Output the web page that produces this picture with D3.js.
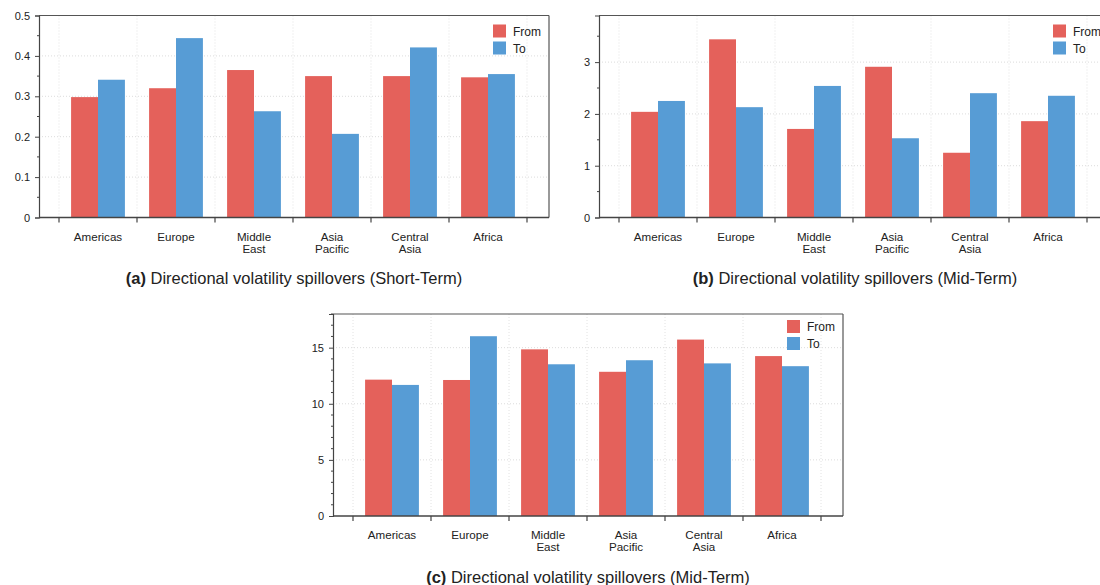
<!DOCTYPE html>
<html>
<head>
<meta charset="utf-8">
<script src="https://cdn.jsdelivr.net/npm/d3@7"></script>
<style>
  html, body { margin: 0; padding: 0; background: #fff; }
  svg { display: block; font-family: "Liberation Sans", Arial, sans-serif; }
</style>
</head>
<body>
<svg id="chart" width="1100" height="585"></svg>
<script>
// ---- Data ----
const categories = ["Americas", "Europe", "Middle East", "Asia Pacific", "Central Asia", "Africa"];
const categoryLines = [["Americas"], ["Europe"], ["Middle", "East"], ["Asia", "Pacific"], ["Central", "Asia"], ["Africa"]];
const seriesNames = ["From", "To"];

const shortFrom = [0.298, 0.320, 0.365, 0.350, 0.350, 0.347];
const shortTo   = [0.341, 0.444, 0.263, 0.207, 0.421, 0.355];

const midFrom = [2.04, 3.44, 1.71, 2.91, 1.25, 1.86];
const midTo   = [2.25, 2.13, 2.54, 1.53, 2.40, 2.35];

const longFrom = [12.15, 12.12, 14.85, 12.85, 15.72, 14.25];
const longTo   = [11.68, 16.02, 13.52, 13.88, 13.60, 13.35];

const titleLabels = ["(a)", "(b)", "(c)"];
const titleTexts = [
  " Directional volatility spillovers (Short-Term)",
  " Directional volatility spillovers (Mid-Term)",
  " Directional volatility spillovers (Mid-Term)"
];
const yTicksA = [0, 0.1, 0.2, 0.3, 0.4, 0.5];
const yTicksB = [0, 1, 2, 3];
const yTicksC = [0, 5, 10, 15];

const colors = { From: "#E4615B", To: "#579CD5" };

// ---- Drawing ----
const svg = d3.select("#chart");

function drawPanel(cfg) {
  const g = svg.append("g");
  const { left, right, top, bottom } = cfg;

  const y = d3.scaleLinear().domain(cfg.yDomain).range([bottom, top]);
  const x0 = d3.scaleBand().domain(categories).range([left + cfg.padL, right - cfg.padR]).padding(0);
  const bw = x0.bandwidth();
  const x1 = d3.scaleBand().domain(seriesNames).range([bw * 0.155, bw * 0.845]).padding(0);

  // grid
  const grid = g.append("g");
  cfg.yTicks.filter(t => t > 0).forEach(t => {
    grid.append("line")
      .attr("x1", left).attr("x2", right)
      .attr("y1", y(t)).attr("y2", y(t))
      .attr("stroke", "#dcdcdc").attr("stroke-width", 1).attr("stroke-dasharray", "1,2");
  });
  const boundaries = categories.map(c => x0(c)).concat([x0(categories[categories.length - 1]) + bw]);
  boundaries.forEach(bx => {
    grid.append("line")
      .attr("x1", bx).attr("x2", bx)
      .attr("y1", top).attr("y2", bottom)
      .attr("stroke", "#e2e2e2").attr("stroke-width", 1).attr("stroke-dasharray", "1,2");
  });

  // bars
  const rows = categories.map((c, i) => ({ cat: c, From: cfg.from[i], To: cfg.to[i] }));
  g.append("g").selectAll("g").data(rows).join("g")
    .attr("transform", d => `translate(${x0(d.cat)},0)`)
    .selectAll("rect")
    .data(d => seriesNames.map(s => ({ key: s, value: d[s] })))
    .join("rect")
    .attr("x", d => x1(d.key))
    .attr("width", x1.bandwidth())
    .attr("y", d => y(d.value))
    .attr("height", d => y(0) - y(d.value))
    .attr("fill", d => colors[d.key]);

  // frame top/right
  g.append("line").attr("x1", left).attr("x2", right).attr("y1", top).attr("y2", top)
    .attr("stroke", "#555").attr("stroke-width", 1.2);
  g.append("line").attr("x1", right).attr("x2", right).attr("y1", top).attr("y2", bottom)
    .attr("stroke", "#555").attr("stroke-width", 1.2);

  // y axis
  const yAxis = d3.axisLeft(y).tickValues(cfg.yTicks).tickSize(4).tickPadding(5)
    .tickFormat(cfg.yFormat);
  const ya = g.append("g").attr("transform", `translate(${left},0)`).call(yAxis);
  ya.select(".domain").attr("stroke", "#444").attr("stroke-width", 1.2);
  ya.selectAll(".tick line").attr("stroke", "#444");
  ya.selectAll(".tick text").attr("fill", "#222").style("font-size", "11px")
    .style("font-family", '"Liberation Sans", Arial, sans-serif');
  // minor ticks
  const minor = d3.range(cfg.yDomain[0], cfg.yDomain[1] + 1e-9, cfg.minorStep)
    .filter(v => !cfg.yTicks.some(t => Math.abs(t - v) < 1e-9));
  g.append("g").selectAll("line").data(minor).join("line")
    .attr("x1", left - 2).attr("x2", left)
    .attr("y1", d => y(d)).attr("y2", d => y(d))
    .attr("stroke", "#444").attr("stroke-width", 1);

  // x axis
  g.append("line").attr("x1", left).attr("x2", right).attr("y1", bottom).attr("y2", bottom)
    .attr("stroke", "#444").attr("stroke-width", 1.6);
  g.append("g").selectAll("line").data(boundaries).join("line")
    .attr("x1", d => d).attr("x2", d => d)
    .attr("y1", bottom).attr("y2", bottom + 5)
    .attr("stroke", "#444").attr("stroke-width", 1.2);
  const xl = g.append("g").selectAll("text").data(categories).join("text")
    .attr("x", d => x0(d) + bw / 2)
    .attr("y", bottom + 23)
    .attr("text-anchor", "middle")
    .attr("fill", "#222")
    .style("font-size", "11.6px");
  xl.each(function(d, i) {
    const t = d3.select(this);
    categoryLines[i].forEach((line, k) => {
      t.append("tspan").attr("x", x0(d) + bw / 2).attr("dy", k === 0 ? 0 : 12).text(line);
    });
  });

  // legend
  const lg = g.append("g").attr("transform", `translate(${right - 56},${top + cfg.legendDy})`);
  seriesNames.forEach((s, i) => {
    lg.append("rect").attr("x", 0).attr("y", i * 17).attr("width", 13).attr("height", 13)
      .attr("fill", colors[s]);
    lg.append("text").attr("x", 20).attr("y", i * 17 + 11).attr("fill", "#222")
      .style("font-size", "12px").text(s);
  });

  // title
  const tt = g.append("text").attr("x", cfg.titleX).attr("y", cfg.titleY)
    .attr("text-anchor", "middle").attr("fill", "#222").style("font-size", "16.5px");
  tt.append("tspan").attr("font-weight", "bold").text(cfg.titleLabel);
  tt.append("tspan").text(cfg.titleText);
}

drawPanel({
  left: 39, right: 549, top: 15.5, bottom: 217.5, padL: 20, padR: 22,
  yDomain: [0, 0.5], yTicks: yTicksA, minorStep: 0.05, yFormat: d => d === 0 ? "0" : d3.format(".1f")(d),
  from: shortFrom, to: shortTo, legendDy: 9,
  titleX: 294, titleY: 284, titleLabel: titleLabels[0], titleText: titleTexts[0]
});

drawPanel({
  left: 599, right: 1109, top: 15.5, bottom: 217.5, padL: 20, padR: 22,
  yDomain: [0, 3.9], yTicks: yTicksB, minorStep: 0.5, yFormat: d3.format("d"),
  from: midFrom, to: midTo, legendDy: 9,
  titleX: 855, titleY: 284, titleLabel: titleLabels[1], titleText: titleTexts[1]
});

drawPanel({
  left: 333, right: 843, top: 314, bottom: 516, padL: 20, padR: 22,
  yDomain: [0, 18], yTicks: yTicksC, minorStep: 1, yFormat: d3.format("d"),
  from: longFrom, to: longTo, legendDy: 6,
  titleX: 588, titleY: 583, titleLabel: titleLabels[2], titleText: titleTexts[2]
});
</script>
</body>
</html>
